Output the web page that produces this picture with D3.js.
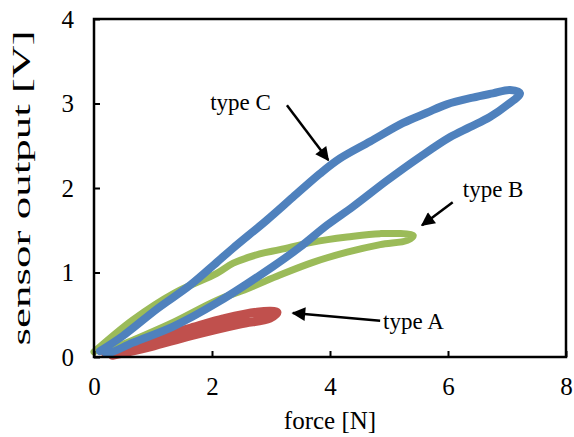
<!DOCTYPE html>
<html lang='en'>
<head>
<meta charset='utf-8'>
<script src='https://cdnjs.cloudflare.com/ajax/libs/d3/7.8.5/d3.min.js'></script>
<title>sensor output vs force</title>
<style>
body {
   margin:0;
   background:white;
   overflow:hidden;
}
text {
   font-family:'Liberation Serif', 'Times New Roman', serif;
   fill:black;
}
</style>
</head>
<body>
<script>
// axis ticks
var xTicks = [0, 2, 4, 6, 8];
var yTicks = [0, 1, 2, 3, 4];

// type A loop (force [N], output [V])
var typeAForce  = [0.19, 0.95, 1.63, 2.19, 2.76, 3.10, 2.98, 2.47, 1.63, 0.95, 0.31];
var typeAOutput = [0.05, 0.22, 0.34, 0.45, 0.53, 0.53, 0.46, 0.39, 0.25, 0.12, 0.02];

// type B loop
var typeBForce  = [0.00, 0.66, 1.37, 2.08, 2.36, 2.81, 3.15, 3.71, 4.29, 4.85, 5.41,
                   5.31, 4.85, 4.29, 3.71, 3.15, 2.64, 2.08, 1.34, 0.66, 0.19];
var typeBOutput = [0.06, 0.44, 0.76, 0.99, 1.11, 1.22, 1.27, 1.36, 1.42, 1.46, 1.44,
                   1.38, 1.33, 1.24, 1.12, 0.97, 0.82, 0.67, 0.41, 0.20, 0.06];

// type C loop
var typeCForce  = [0.10, 0.49, 1.07, 1.63, 2.08, 2.36, 2.93, 3.37, 3.83, 4.17, 4.68, 5.24,
                   5.64, 5.98, 6.42, 6.76, 7.05, 7.22,
                   7.00, 6.71, 6.37, 6.03, 5.53, 4.97, 4.39, 3.95, 3.49, 3.03, 2.08, 1.34,
                   0.66, 0.27, 0.20];
var typeCOutput = [0.07, 0.25, 0.57, 0.85, 1.12, 1.29, 1.62, 1.89, 2.17, 2.35, 2.55, 2.77,
                   2.89, 2.99, 3.07, 3.12, 3.16, 3.12,
                   2.98, 2.84, 2.72, 2.60, 2.37, 2.09, 1.78, 1.56, 1.30, 1.07, 0.64, 0.36,
                   0.17, 0.05, 0.05];

// annotation labels and arrows
var labels     = ['type A', 'type B', 'type C'];
var labelX     = [4.90, 6.25, 1.97];
var labelY     = [0.33, 1.89, 2.92];
var arrowFromX = [4.85, 6.08, 3.27];
var arrowFromY = [0.43, 1.83, 2.98];
var arrowToX   = [3.37, 5.56, 3.97];
var arrowToY   = [0.52, 1.56, 2.33];

var W = 574, H = 437;
var plotL = 94, plotR = 566, plotT = 19, plotB = 357;

var svg = d3.select('body').append('svg')
            .attr('width', W)
            .attr('height', H);

var x = d3.scaleLinear().domain([0, 8]).range([plotL, plotR]);
var y = d3.scaleLinear().domain([0, 4]).range([plotB, plotT]);

svg.append('defs').append('marker')
   .attr('id', 'head')
   .attr('viewBox', '0 0 10 10')
   .attr('refX', 9).attr('refY', 5)
   .attr('markerWidth', 6).attr('markerHeight', 5.5)
   .attr('markerUnits', 'strokeWidth')
   .attr('orient', 'auto')
   .append('path')
   .attr('d', 'M0,0 L10,5 L0,10 Z')
   .attr('fill', 'black');

var series = [
   {f : typeAForce, v : typeAOutput, col : '#C0504D', w : 9},
   {f : typeBForce, v : typeBOutput, col : '#9BBB59', w : 7},
   {f : typeCForce, v : typeCOutput, col : '#4F81BD', w : 8}
];

var line = d3.line()
   .x(function(d){return x(d[0]);})
   .y(function(d){return y(d[1]);})
   .curve(d3.curveCatmullRom.alpha(0.5));

svg.append('g').selectAll('path')
   .data(series)
   .enter()
   .append('path')
   .attr('d', function(s){return line(s.f.map(function(f, i){return [f, s.v[i]];}));})
   .attr('fill', 'none')
   .attr('stroke', function(s){return s.col;})
   .attr('stroke-width', function(s){return s.w;})
   .attr('stroke-linejoin', 'round')
   .attr('stroke-linecap', 'round');

// axes, ticks inside
var xAxis = svg.append('g')
   .attr('transform', 'translate(0,' + plotB + ')')
   .call(d3.axisBottom(x).tickValues(xTicks).tickSize(-6).tickPadding(20).tickFormat(d3.format('d')));
var yAxis = svg.append('g')
   .attr('transform', 'translate(' + plotL + ',0)')
   .call(d3.axisLeft(y).tickValues(yTicks).tickSize(-6).tickPadding(20).tickFormat(d3.format('d')));
[xAxis, yAxis].forEach(function(a) {
   a.select('.domain').remove();
   a.selectAll('line').attr('stroke', 'black').attr('stroke-width', 2);
   a.selectAll('text').style('font-family', "'Liberation Serif', serif").style('font-size', '25px').attr('fill', 'black');
});

svg.append('rect')
   .attr('x', plotL).attr('y', plotT)
   .attr('width', plotR - plotL).attr('height', plotB - plotT)
   .attr('fill', 'none')
   .attr('stroke', 'black')
   .attr('stroke-width', 2.5);

// annotations
svg.append('g').selectAll('line')
   .data(labels)
   .enter()
   .append('line')
   .attr('x1', function(d, i){return x(arrowFromX[i]);})
   .attr('y1', function(d, i){return y(arrowFromY[i]);})
   .attr('x2', function(d, i){return x(arrowToX[i]);})
   .attr('y2', function(d, i){return y(arrowToY[i]);})
   .attr('stroke', 'black')
   .attr('stroke-width', 2.5)
   .attr('marker-end', 'url(#head)');

svg.append('g').selectAll('text')
   .data(labels)
   .enter()
   .append('text')
   .attr('x', function(d, i){return x(labelX[i]);})
   .attr('y', function(d, i){return y(labelY[i]);})
   .style('font-size', '23px')
   .text(function(d){return d;});

svg.append('text')
   .attr('x', (plotL + plotR) / 2)
   .attr('y', 429)
   .attr('text-anchor', 'middle')
   .style('font-size', '25px')
   .text('force [N]');

// y title is drawn tall in the original, so stretch it along its run
svg.append('text')
   .attr('transform', 'translate(30,' + ((plotT + plotB) / 2) + ') rotate(-90) scale(1.8,1)')
   .attr('text-anchor', 'middle')
   .style('font-size', '25px')
   .text('sensor output [V]');
</script>
</body>
</html>
